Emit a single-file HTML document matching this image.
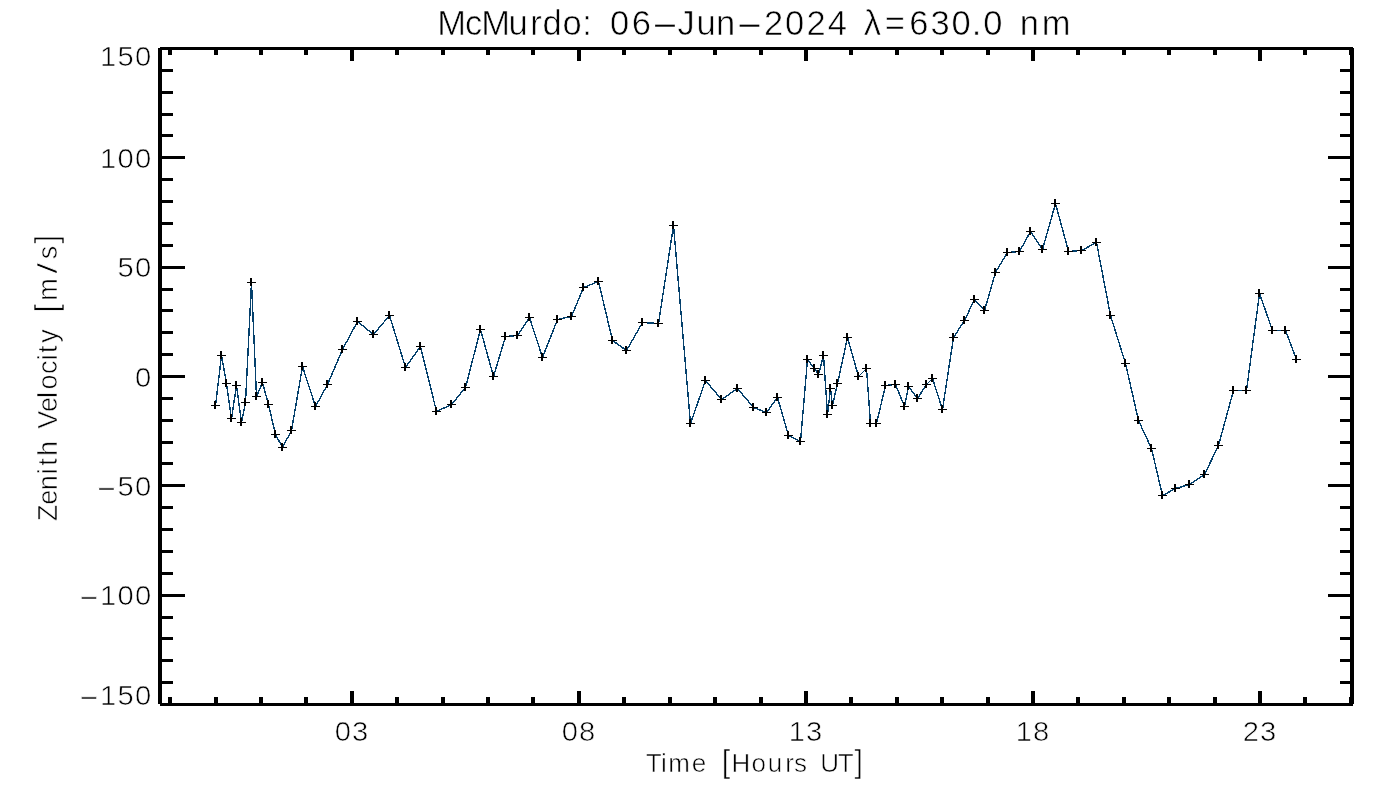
<!DOCTYPE html>
<html><head><meta charset="utf-8"><title>McMurdo: 06-Jun-2024 630.0 nm</title>
<style>
html,body{margin:0;padding:0;background:#fff;overflow:hidden;}
svg{display:block;}
text{font-family:"Liberation Sans",sans-serif;fill:#000;text-anchor:middle;stroke:#fff;stroke-width:0.6px;}
</style></head><body>
<svg width="1400" height="800" viewBox="0 0 1400 800">
<rect x="0" y="0" width="1400" height="800" fill="#fff"/>

<path shape-rendering="crispEdges" fill="#000" d="M158 48h4v656h-4zM1350 48h4v656h-4zM160 47h1193v3h-1193zM160 703h1193v3h-1193zM168 50h4v5h-4zM168 697h4v6h-4zM214 50h4v5h-4zM214 697h4v6h-4zM259 50h4v5h-4zM259 697h4v6h-4zM304 50h4v5h-4zM304 697h4v6h-4zM350 50h4v11h-4zM350 691h4v12h-4zM395 50h4v5h-4zM395 697h4v6h-4zM441 50h4v5h-4zM441 697h4v6h-4zM486 50h4v5h-4zM486 697h4v6h-4zM531 50h4v5h-4zM531 697h4v6h-4zM577 50h4v11h-4zM577 691h4v12h-4zM622 50h4v5h-4zM622 697h4v6h-4zM668 50h4v5h-4zM668 697h4v6h-4zM713 50h4v5h-4zM713 697h4v6h-4zM759 50h4v5h-4zM759 697h4v6h-4zM804 50h4v11h-4zM804 691h4v12h-4zM849 50h4v5h-4zM849 697h4v6h-4zM895 50h4v5h-4zM895 697h4v6h-4zM940 50h4v5h-4zM940 697h4v6h-4zM986 50h4v5h-4zM986 697h4v6h-4zM1031 50h4v11h-4zM1031 691h4v12h-4zM1076 50h4v5h-4zM1076 697h4v6h-4zM1122 50h4v5h-4zM1122 697h4v6h-4zM1167 50h4v5h-4zM1167 697h4v6h-4zM1213 50h4v5h-4zM1213 697h4v6h-4zM1258 50h4v11h-4zM1258 691h4v12h-4zM1303 50h4v5h-4zM1303 697h4v6h-4zM1349 50h4v5h-4zM1349 697h4v6h-4zM162 69h11v3h-11zM1340 69h10v3h-10zM162 91h11v3h-11zM1340 91h10v3h-10zM162 113h11v3h-11zM1340 113h10v3h-10zM162 134h11v3h-11zM1340 134h10v3h-10zM162 156h23v3h-23zM1328 156h22v3h-22zM162 178h11v3h-11zM1340 178h10v3h-10zM162 200h11v3h-11zM1340 200h10v3h-10zM162 222h11v3h-11zM1340 222h10v3h-10zM162 244h11v3h-11zM1340 244h10v3h-10zM162 266h23v3h-23zM1328 266h22v3h-22zM162 288h11v3h-11zM1340 288h10v3h-10zM162 309h11v3h-11zM1340 309h10v3h-10zM162 331h11v3h-11zM1340 331h10v3h-10zM162 353h11v3h-11zM1340 353h10v3h-10zM162 375h23v3h-23zM1328 375h22v3h-22zM162 397h11v3h-11zM1340 397h10v3h-10zM162 419h11v3h-11zM1340 419h10v3h-10zM162 441h11v3h-11zM1340 441h10v3h-10zM162 462h11v3h-11zM1340 462h10v3h-10zM162 484h23v3h-23zM1328 484h22v3h-22zM162 506h11v3h-11zM1340 506h10v3h-10zM162 528h11v3h-11zM1340 528h10v3h-10zM162 550h11v3h-11zM1340 550h10v3h-10zM162 572h11v3h-11zM1340 572h10v3h-10zM162 594h23v3h-23zM1328 594h22v3h-22zM162 616h11v3h-11zM1340 616h10v3h-10zM162 637h11v3h-11zM1340 637h10v3h-10zM162 659h11v3h-11zM1340 659h10v3h-10zM162 681h11v3h-11zM1340 681h10v3h-10z"/>
<path d="M215.5 405.5 L221.5 355.5 L226.5 383.5 L231.5 418.5 L236.5 385.5 L241.5 422.5 L245.5 402.5 L251.5 282.5 L256.5 396.5 L262.5 382.5 L268.5 404.5 L275.5 434.5 L282.5 447.5 L291.5 430.5 L302.5 366.5 L315.5 406.5 L327.5 384.5 L342.5 349.5 L357.5 321.5 L373.5 334.5 L389.5 315.5 L405.5 367.5 L420.5 346.5 L436.5 411.5 L451.5 404.5 L465.5 387.5 L480.5 329.5 L493.5 376.5 L505.5 336.5 L517.5 335.5 L529.5 317.5 L542.5 357.5 L557.5 319.5 L571.5 316.5 L583.5 287.5 L598.5 281.5 L612.5 340.5 L626.5 350.5 L642.5 322.5 L658.5 323.5 L673.5 225.5 L690.5 423.5 L705.5 380.5 L721.5 399.5 L737.5 388.5 L753.5 407.5 L766.5 412.5 L777.5 397.5 L788.5 435.5 L800.5 441.5 L807.5 359.5 L814.5 368.5 L818.5 374.5 L823.5 355.5 L827.5 414.5 L830.5 388.5 L832.5 405.5 L837.5 383.5 L847.5 337.5 L858.5 376.5 L866.5 368.5 L870.5 423.5 L876.5 423.5 L885.5 385.5 L895.5 384.5 L904.5 406.5 L908.5 386.5 L917.5 398.5 L926.5 384.5 L932.5 378.5 L942.5 409.5 L953.5 337.5 L964.5 320.5 L974.5 299.5 L984.5 310.5 L995.5 272.5 L1007.5 252.5 L1019.5 251.5 L1030.5 231.5 L1042.5 249.5 L1055.5 203.5 L1068.5 251.5 L1081.5 250.5 L1096.5 242.5 L1110.5 315.5 L1125.5 363.5 L1138.5 420.5 L1151.5 448.5 L1162.5 495.5 L1175.5 488.5 L1189.5 484.5 L1204.5 474.5 L1218.5 445.5 L1233.5 390.5 L1246.5 390.5 L1259.5 293.5 L1272.5 330.5 L1285.5 330.5 L1296.5 359.5" fill="none" stroke="#04406c" stroke-width="1.4" stroke-linejoin="bevel" shape-rendering="crispEdges"/>
<path d="M211 405h9v1h-9zM214 401h2v8h-2zM217 355h9v1h-9zM220 351h2v8h-2zM222 383h9v1h-9zM225 379h2v8h-2zM227 418h9v1h-9zM230 414h2v8h-2zM232 385h9v1h-9zM235 381h2v8h-2zM237 422h9v1h-9zM240 418h2v8h-2zM241 402h9v1h-9zM244 398h2v8h-2zM247 282h9v1h-9zM250 278h2v8h-2zM252 396h9v1h-9zM255 392h2v8h-2zM258 382h9v1h-9zM261 378h2v8h-2zM264 404h9v1h-9zM267 400h2v8h-2zM271 434h9v1h-9zM274 430h2v8h-2zM278 447h9v1h-9zM281 443h2v8h-2zM287 430h9v1h-9zM290 426h2v8h-2zM298 366h9v1h-9zM301 362h2v8h-2zM311 406h9v1h-9zM314 402h2v8h-2zM323 384h9v1h-9zM326 380h2v8h-2zM338 349h9v1h-9zM341 345h2v8h-2zM353 321h9v1h-9zM356 317h2v8h-2zM369 334h9v1h-9zM372 330h2v8h-2zM385 315h9v1h-9zM388 311h2v8h-2zM401 367h9v1h-9zM404 363h2v8h-2zM416 346h9v1h-9zM419 342h2v8h-2zM432 411h9v1h-9zM435 407h2v8h-2zM447 404h9v1h-9zM450 400h2v8h-2zM461 387h9v1h-9zM464 383h2v8h-2zM476 329h9v1h-9zM479 325h2v8h-2zM489 376h9v1h-9zM492 372h2v8h-2zM501 336h9v1h-9zM504 332h2v8h-2zM513 335h9v1h-9zM516 331h2v8h-2zM525 317h9v1h-9zM528 313h2v8h-2zM538 357h9v1h-9zM541 353h2v8h-2zM553 319h9v1h-9zM556 315h2v8h-2zM567 316h9v1h-9zM570 312h2v8h-2zM579 287h9v1h-9zM582 283h2v8h-2zM594 281h9v1h-9zM597 277h2v8h-2zM608 340h9v1h-9zM611 336h2v8h-2zM622 350h9v1h-9zM625 346h2v8h-2zM638 322h9v1h-9zM641 318h2v8h-2zM654 323h9v1h-9zM657 319h2v8h-2zM669 225h9v1h-9zM672 221h2v8h-2zM686 423h9v1h-9zM689 419h2v8h-2zM701 380h9v1h-9zM704 376h2v8h-2zM717 399h9v1h-9zM720 395h2v8h-2zM733 388h9v1h-9zM736 384h2v8h-2zM749 407h9v1h-9zM752 403h2v8h-2zM762 412h9v1h-9zM765 408h2v8h-2zM773 397h9v1h-9zM776 393h2v8h-2zM784 435h9v1h-9zM787 431h2v8h-2zM796 441h9v1h-9zM799 437h2v8h-2zM803 359h9v1h-9zM806 355h2v8h-2zM810 368h9v1h-9zM813 364h2v8h-2zM814 374h9v1h-9zM817 370h2v8h-2zM819 355h9v1h-9zM822 351h2v8h-2zM823 414h9v1h-9zM826 410h2v8h-2zM826 388h9v1h-9zM829 384h2v8h-2zM828 405h9v1h-9zM831 401h2v8h-2zM833 383h9v1h-9zM836 379h2v8h-2zM843 337h9v1h-9zM846 333h2v8h-2zM854 376h9v1h-9zM857 372h2v8h-2zM862 368h9v1h-9zM865 364h2v8h-2zM866 423h9v1h-9zM869 419h2v8h-2zM872 423h9v1h-9zM875 419h2v8h-2zM881 385h9v1h-9zM884 381h2v8h-2zM891 384h9v1h-9zM894 380h2v8h-2zM900 406h9v1h-9zM903 402h2v8h-2zM904 386h9v1h-9zM907 382h2v8h-2zM913 398h9v1h-9zM916 394h2v8h-2zM922 384h9v1h-9zM925 380h2v8h-2zM928 378h9v1h-9zM931 374h2v8h-2zM938 409h9v1h-9zM941 405h2v8h-2zM949 337h9v1h-9zM952 333h2v8h-2zM960 320h9v1h-9zM963 316h2v8h-2zM970 299h9v1h-9zM973 295h2v8h-2zM980 310h9v1h-9zM983 306h2v8h-2zM991 272h9v1h-9zM994 268h2v8h-2zM1003 252h9v1h-9zM1006 248h2v8h-2zM1015 251h9v1h-9zM1018 247h2v8h-2zM1026 231h9v1h-9zM1029 227h2v8h-2zM1038 249h9v1h-9zM1041 245h2v8h-2zM1051 203h9v1h-9zM1054 199h2v8h-2zM1064 251h9v1h-9zM1067 247h2v8h-2zM1077 250h9v1h-9zM1080 246h2v8h-2zM1092 242h9v1h-9zM1095 238h2v8h-2zM1106 315h9v1h-9zM1109 311h2v8h-2zM1121 363h9v1h-9zM1124 359h2v8h-2zM1134 420h9v1h-9zM1137 416h2v8h-2zM1147 448h9v1h-9zM1150 444h2v8h-2zM1158 495h9v1h-9zM1161 491h2v8h-2zM1171 488h9v1h-9zM1174 484h2v8h-2zM1185 484h9v1h-9zM1188 480h2v8h-2zM1200 474h9v1h-9zM1203 470h2v8h-2zM1214 445h9v1h-9zM1217 441h2v8h-2zM1229 390h9v1h-9zM1232 386h2v8h-2zM1242 390h9v1h-9zM1245 386h2v8h-2zM1255 293h9v1h-9zM1258 289h2v8h-2zM1268 330h9v1h-9zM1271 326h2v8h-2zM1281 330h9v1h-9zM1284 326h2v8h-2zM1292 359h9v1h-9zM1295 355h2v8h-2z" fill="#000" shape-rendering="crispEdges"/>
<text transform="scale(1.0 1)" font-size="34.5" x="451.60 473.50 495.60 518.10 535.90 552.00 572.10 587.10 603.30 619.50 641.40 664.90 686.00 706.20 725.60 749.60 773.60 794.60 816.10 837.25 854.80 872.35 894.85 918.80 940.00 961.00 976.65 992.80 1011.10 1029.40 1056.00" y="34.5">McMurdo: 06<tspan textLength="29" lengthAdjust="spacingAndGlyphs">-</tspan>Jun<tspan textLength="29" lengthAdjust="spacingAndGlyphs">-</tspan>2024 λ=630.0 nm</text>
<text transform="scale(1.08 1)" font-size="27" x="100.19 116.39 132.59" y="66">150</text>
<text transform="scale(1.08 1)" font-size="27" x="100.19 116.39 132.59" y="168">100</text>
<text transform="scale(1.08 1)" font-size="27" x="116.39 132.59" y="277">50</text>
<text transform="scale(1.08 1)" font-size="27" x="132.59" y="387">0</text>
<text transform="scale(1.08 1)" font-size="27" x="98.52 116.39 132.59" y="496"><tspan textLength="20.3" lengthAdjust="spacingAndGlyphs">-</tspan>50</text>
<text transform="scale(1.08 1)" font-size="27" x="82.31 100.19 116.39 132.59" y="605"><tspan textLength="20.3" lengthAdjust="spacingAndGlyphs">-</tspan>100</text>
<text transform="scale(1.08 1)" font-size="27" x="82.31 100.19 116.39 132.59" y="705"><tspan textLength="20.3" lengthAdjust="spacingAndGlyphs">-</tspan>150</text>
<text transform="scale(1.08 1)" font-size="27" x="317.50 333.43" y="741.5">03</text>
<text transform="scale(1.08 1)" font-size="27" x="527.69 543.61" y="741.5">08</text>
<text transform="scale(1.08 1)" font-size="27" x="737.87 753.80" y="741.5">13</text>
<text transform="scale(1.08 1)" font-size="27" x="948.06 963.98" y="741.5">18</text>
<text transform="scale(1.08 1)" font-size="27" x="1158.24 1174.17" y="741.5">23</text>
<text transform="scale(1.0 1)" font-size="26" x="653.70 663.80 679.00 699.10 712.55 726.00 740.80 758.70 775.10 789.50 800.60 815.10 829.60 845.80 858.75" y="771.5">Time <tspan font-size="30.5">[</tspan>Hours UT<tspan font-size="30.5">]</tspan></text>
<text transform="translate(56.5 0) rotate(-90) scale(1.0 1)" font-size="27" x="-512.85 -497.20 -482.65 -471.30 -462.00 -448.45 -434.05 -419.65 -404.40 -395.00 -382.10 -367.30 -357.25 -349.25 -336.10 -322.15 -308.20 -289.60 -268.20 -252.40 -239.20" y="0">Zenith Velocity <tspan font-size="30.5">[</tspan>m<tspan textLength="11" lengthAdjust="spacingAndGlyphs">/</tspan>s<tspan font-size="30.5">]</tspan></text>
</svg></body></html>
